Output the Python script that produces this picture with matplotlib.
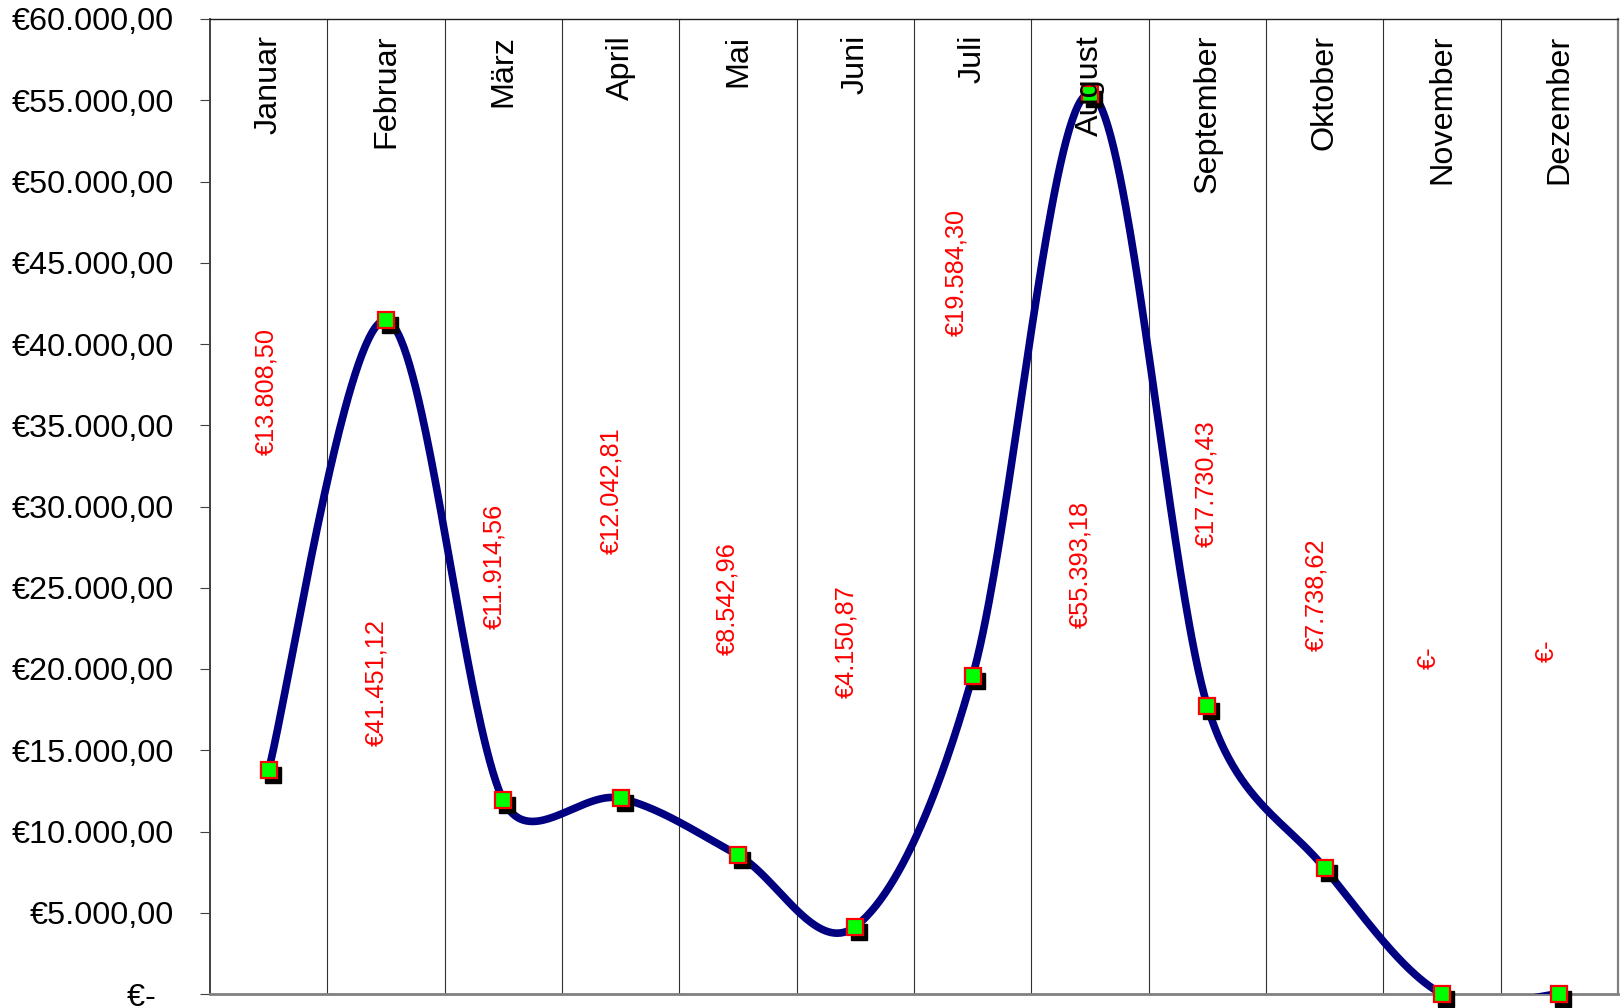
import numpy as np
import matplotlib
matplotlib.use("Agg")
import matplotlib.pyplot as plt
from matplotlib.ticker import FixedLocator, FuncFormatter
from matplotlib.transforms import ScaledTranslation

plt.rcParams['font.family'] = ['Liberation Sans', 'DejaVu Sans']

# ---- data ----
months = ['Januar', 'Februar', 'März', 'April', 'Mai', 'Juni', 'Juli',
          'August', 'September', 'Oktober', 'November', 'Dezember']
values = [13808.50, 41451.12, 11914.56, 12042.81, 8542.96, 4150.87,
          19584.30, 55393.18, 17730.43, 7738.62, 0.0, 0.0]
y_ticks = list(range(0, 60001, 5000))

# layout: data-label positions (manually placed labels in the original)
label_y = [37070, 19170, 26300, 30950, 24330, 21660, 44400, 26430, 31400, 24590, 20700, 21150]
label_dx = [-0.02, -0.08, -0.08, -0.08, -0.09, -0.08, -0.14, -0.08, -0.01, -0.07, -0.11, -0.11]


def euro(v):
    if v == 0:
        return "€-  "
    s = f"{v:,.2f}"
    s = s.replace(",", "X").replace(".", ",").replace("X", ".")
    return "€" + s


def excel_smooth(P, n=80):
    """Excel-like smoothed line in display space (control length capped at half segment)."""
    P = np.asarray(P, float)
    N = len(P)
    out = []
    for i in range(N - 1):
        p0 = P[max(i - 1, 0)]
        p1 = P[i]
        p2 = P[i + 1]
        p3 = P[min(i + 2, N - 1)]
        d12 = np.linalg.norm(p2 - p1)
        v1 = (p2 - p0) / 6.0
        v2 = (p3 - p1) / 6.0
        l1 = np.linalg.norm(v1)
        l2 = np.linalg.norm(v2)
        if l1 > d12 / 2 and l1 > 0:
            v1 *= (d12 / 2) / l1
        if l2 > d12 / 2 and l2 > 0:
            v2 *= (d12 / 2) / l2
        c1 = p1 + v1
        c2 = p2 - v2
        t = np.linspace(0, 1, n)[:, None]
        b = (1 - t) ** 3 * p1 + 3 * (1 - t) ** 2 * t * c1 + 3 * (1 - t) * t ** 2 * c2 + t ** 3 * p2
        if i > 0:
            b = b[1:]
        out.append(b)
    return np.vstack(out)


W, H = 1623, 1008
fig = plt.figure(figsize=(W / 100, H / 100), dpi=100)
ax = fig.add_axes([210 / W, (H - 994) / H, (1618 - 210) / W, (994 - 19) / H])

xs = np.arange(len(months))
ax.set_xlim(-0.5, len(months) - 0.5)
ax.set_ylim(0, 60000)

# vertical category separators
for i in range(len(months) - 1):
    ax.axvline(i + 0.5, color='#303030', lw=0.8, zorder=1)

# smoothed line (computed in screen space like the spreadsheet does)
pts_disp = ax.transData.transform(np.column_stack([xs, values]))
curve = ax.transData.inverted().transform(excel_smooth(pts_disp))
ax.plot(curve[:, 0], curve[:, 1], color='#000080', lw=5.5, solid_capstyle='butt', zorder=3)

# marker shadows
shadow = ax.transData + ScaledTranslation(4 / 100, -5 / 100, fig.dpi_scale_trans)
ax.plot(xs, values, linestyle='none', marker='s', ms=11.5, mfc='black', mec='black',
        mew=1.0, transform=shadow, clip_on=False, zorder=4)
ax.plot(xs, values, linestyle='none', marker='s', ms=11, mfc='#00ff00', mec='#ff0000',
        mew=1.6, clip_on=False, zorder=5)

# month labels at top
for i, m in enumerate(months):
    ax.annotate(m, xy=(i, 1), xycoords=('data', 'axes fraction'), xytext=(0, -11.5),
                textcoords='offset points', rotation=90, ha='center', va='top',
                fontsize=23.3, color='black', zorder=6)

# data labels
for i, v in enumerate(values):
    ax.text(i + label_dx[i], label_y[i], euro(v).strip(), rotation=90, ha='center', va='center',
            fontsize=18.3, color='#ff0000', zorder=6)

# axes styling
ax.yaxis.set_major_locator(FixedLocator(y_ticks))
ax.yaxis.set_major_formatter(FuncFormatter(lambda v, p: euro(v)))
ax.tick_params(axis='y', direction='out', length=7, width=0.8, color='#404040',
               labelsize=23.4, pad=19)
ax.set_xticks([])
ax.spines['left'].set_color('#404040')
ax.spines['left'].set_linewidth(1.4)
ax.spines['top'].set_color('#202020')
ax.spines['top'].set_linewidth(1.0)
ax.spines['bottom'].set_color('#808080')
ax.spines['bottom'].set_linewidth(2.0)
ax.spines['right'].set_color('#808080')
ax.spines['right'].set_linewidth(1.6)

fig.savefig('out.png', dpi=100)
